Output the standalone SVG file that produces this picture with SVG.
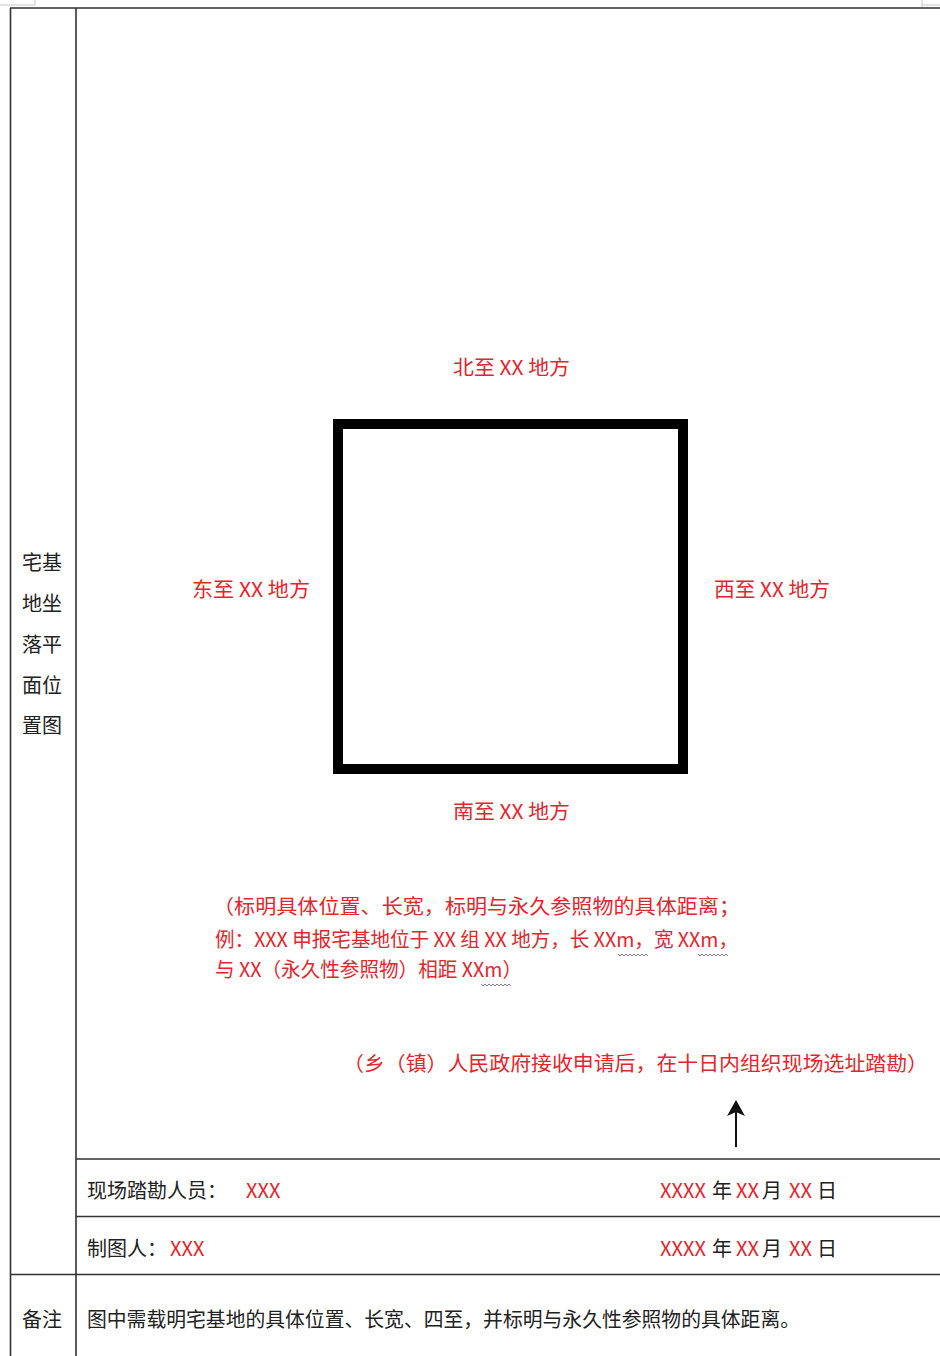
<svg xmlns="http://www.w3.org/2000/svg" width="940" height="1356" viewBox="0 0 940 1356">
<style>
.t{font-family:"Noto Sans CJK SC","Liberation Sans",sans-serif;font-size:20px;fill:#222}
.r{fill:#e2262e}
.grid{stroke:#333;stroke-width:1.6;fill:none}
.crop{stroke:#c8c8c8;stroke-width:1;fill:none}
.wave{stroke:#8a7a9a;stroke-width:1;fill:none}
</style>
<defs>
<marker id="ah" markerWidth="16" markerHeight="18" refX="13" refY="9" orient="auto" markerUnits="userSpaceOnUse" viewBox="0 0 16 18">
<path d="M0,0 L16,9 L0,18 L4,9 Z" fill="#111"/>
</marker>
</defs>
<rect width="940" height="1356" fill="#fff"/>
<g id="cropmarks">
<path class="crop" d="M0,5 H35 V0 M922,0 V8 M922,5 H940"/>
</g>
<g id="table">
<path class="grid" d="M10,8 H940 M10.5,8 V1356 M76,8 V1356 M76,1159 H940 M76,1216.5 H940 M10,1274.5 H940"/>
</g>
<g id="rowlabel">
<text class="t" x="22" y="570">宅基</text>
<text class="t" x="22" y="611">地坐</text>
<text class="t" x="22" y="652">落平</text>
<text class="t" x="22" y="693">面位</text>
<text class="t" x="22" y="733">置图</text>
</g>
<g id="plot">
<rect x="338" y="424" width="345" height="345" fill="none" stroke="#000" stroke-width="10"/>
</g>
<g id="north"><text class="t r" x="453" y="375" textLength="117" lengthAdjust="spacingAndGlyphs">北至 XX 地方</text></g>
<g id="east"><text class="t r" x="192" y="597" textLength="118" lengthAdjust="spacingAndGlyphs">东至 XX 地方</text></g>
<g id="west"><text class="t r" x="714" y="597" textLength="116" lengthAdjust="spacingAndGlyphs">西至 XX 地方</text></g>
<g id="south"><text class="t r" x="453" y="819" textLength="117" lengthAdjust="spacingAndGlyphs">南至 XX 地方</text></g>
<g id="note">
<text class="t r" x="213" y="914" textLength="527" lengthAdjust="spacingAndGlyphs">（标明具体位置、长宽，标明与永久参照物的具体距离；</text>
<text class="t r" x="215" y="947" textLength="523" lengthAdjust="spacingAndGlyphs">例：XXX 申报宅基地位于 XX 组 XX 地方，长 XXm，宽 XXm，</text>
<text class="t r" x="215" y="977" textLength="307" lengthAdjust="spacingAndGlyphs">与 XX（永久性参照物）相距 XXm）</text>
<path class="wave" d="M618,954 l2,2 l2,-2 l2,2 l2,-2 l2,2 l2,-2 l2,2 l2,-2 l2,2 l2,-2 l2,2 l2,-2 l2,2 l2,-2 l2,2"/>
<path class="wave" d="M698,954 l2,2 l2,-2 l2,2 l2,-2 l2,2 l2,-2 l2,2 l2,-2 l2,2 l2,-2 l2,2 l2,-2 l2,2 l2,-2 l2,2"/>
<path class="wave" d="M481,984 l2,2 l2,-2 l2,2 l2,-2 l2,2 l2,-2 l2,2 l2,-2 l2,2 l2,-2 l2,2 l2,-2 l2,2 l2,-2 l2,2"/>
</g>
<g id="survey-note">
<text class="t r" x="343" y="1071" textLength="585" lengthAdjust="spacingAndGlyphs">（乡（镇）人民政府接收申请后，在十日内组织现场选址踏勘）</text>
</g>
<g id="connectors">
<line x1="736" y1="1147" x2="736" y2="1103" stroke="#111" stroke-width="2" marker-end="url(#ah)"/>
</g>
<g id="surveyor">
<text class="t" x="87" y="1198">现场踏勘人员：<tspan class="r" x="246">XXX</tspan></text>
<text class="t" y="1198"><tspan class="r" x="660">XXXX</tspan><tspan x="712">年</tspan><tspan class="r" x="736">XX</tspan><tspan x="762">月</tspan><tspan class="r" x="789">XX</tspan><tspan x="817">日</tspan></text>
</g>
<g id="drafter">
<text class="t" x="87" y="1256">制图人：<tspan class="r" x="170">XXX</tspan></text>
<text class="t" y="1256"><tspan class="r" x="660">XXXX</tspan><tspan x="712">年</tspan><tspan class="r" x="736">XX</tspan><tspan x="762">月</tspan><tspan class="r" x="789">XX</tspan><tspan x="817">日</tspan></text>
</g>
<g id="remark">
<text class="t" x="22" y="1327">备注</text>
<text class="t" x="87" y="1327" textLength="713" lengthAdjust="spacingAndGlyphs">图中需载明宅基地的具体位置、长宽、四至，并标明与永久性参照物的具体距离。</text>
</g>
</svg>
